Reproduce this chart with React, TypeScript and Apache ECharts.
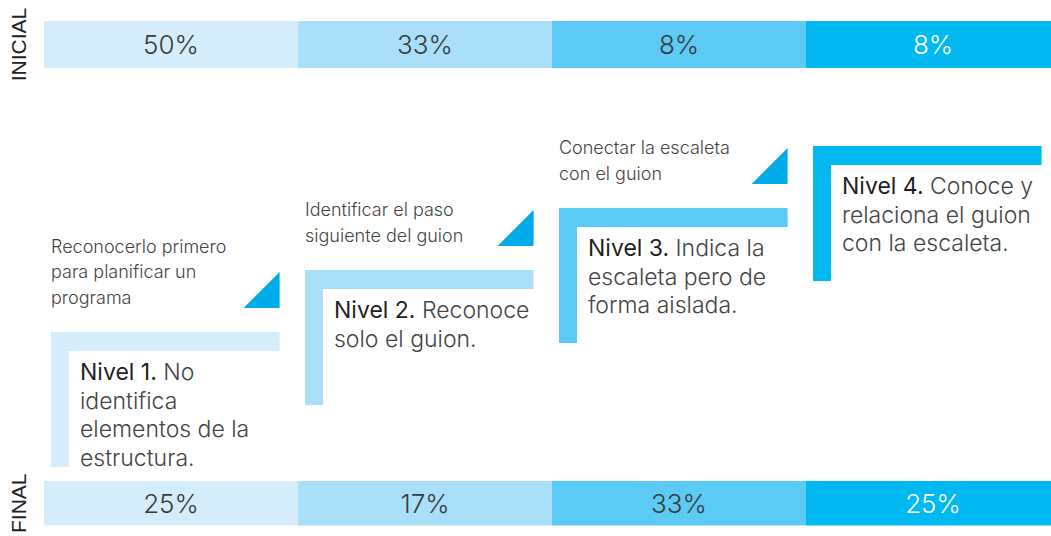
import React, { useEffect, useRef } from "react";
import * as echarts from "echarts";

const levels = ["Nivel 1", "Nivel 2", "Nivel 3", "Nivel 4"];
const stages = ["INICIAL", "FINAL"];
const inicial = [50, 33, 8, 8];
const final = [25, 17, 33, 25];
const levelSteps = [1, 2, 3, 4];
const levelTitles = ["Nivel 1.", "Nivel 2.", "Nivel 3.", "Nivel 4."];
const levelDescriptions = [
  " No\nidentifica\nelementos de la\nestructura.",
  " Reconoce\nsolo el guion.",
  " Indica la\nescaleta pero de\nforma aislada.",
  " Conoce y\nrelaciona el guion\ncon la escaleta.",
];
const stepHints = [
  "Reconocerlo primero\npara planificar un\nprograma",
  "Identificar el paso\nsiguiente del guion",
  "Conectar la escaleta\ncon el guion",
  "",
];

const levelColors = ["#d5edfa", "#aadff9", "#5bcbf5", "#00b9f1"];
const arrowColor = "#00abec";
const FONT = "Inter, sans-serif";

export default function App() {
  const ref = useRef<HTMLDivElement>(null);
  useEffect(() => {
    if (!ref.current) return;
    const chart = echarts.init(ref.current, null, { renderer: "svg" });

    const stageBar = (values: number[], idx: number) => ({
      type: "bar",
      xAxisIndex: idx,
      yAxisIndex: idx,
      barWidth: "100%",
      barCategoryGap: "0%",
      data: values.map((v, i) => ({
        value: 1,
        itemStyle: { color: levelColors[i] },
        label: { color: i === 3 ? "#ffffff" : "#3a3a3a" },
      })),
      label: {
        show: true,
        position: "inside",
        fontFamily: FONT,
        fontWeight: 300,
        fontSize: 26,
        formatter: (p: any) => `${values[p.dataIndex]}%`,
      },
      silent: true,
    });

    const stageAxisY = (name: string, idx: number) => ({
      type: "value",
      gridIndex: idx,
      min: 0,
      max: 1,
      name,
      nameLocation: "middle",
      nameRotate: 90,
      nameGap: 15,
      nameTextStyle: {
        fontFamily: "'Liberation Sans', Arial, sans-serif",
        fontSize: 21,
        color: "#222222",
      },
      axisLine: { show: false },
      axisTick: { show: false },
      axisLabel: { show: false },
      splitLine: { show: false },
    });

    const catX = (idx: number) => ({
      type: "category",
      gridIndex: idx,
      data: levels,
      axisLine: { show: false },
      axisTick: { show: false },
      axisLabel: { show: false },
      splitLine: { show: false },
    });

    const option: any = {
      animation: false,
      grid: [
        { left: 44, right: 0, top: 21, height: 47 },
        { left: 44, right: 0, top: 481, height: 47 },
        { left: 44, right: 0, top: 146, height: 186 },
      ],
      xAxis: [catX(0), catX(1), catX(2)],
      yAxis: [
        stageAxisY(stages[0], 0),
        stageAxisY(stages[1], 1),
        {
          type: "value",
          gridIndex: 2,
          min: 1,
          max: 4,
          show: false,
        },
      ],
      series: [
        stageBar(inicial, 0),
        stageBar(final, 1),
        {
          type: "custom",
          xAxisIndex: 2,
          yAxisIndex: 2,
          clip: false,
          silent: true,
          data: levels.map((_, i) => [i, levelSteps[i]]),
          renderItem: (params: any, api: any) => {
            const i = api.value(0);
            const pt = api.coord([i, api.value(1)]);
            const bandW = api.size([1, 0])[0];
            const left = pt[0] - bandW / 2 + 7;
            const top = pt[1];
            const len = bandW * 0.9;
            const right = left + len;
            const th = 19;
            const vlen = 135;
            const color = levelColors[i];
            const children: any[] = [
              { type: "rect", shape: { x: left, y: top, width: len, height: th }, style: { fill: color } },
              { type: "rect", shape: { x: left, y: top, width: 18, height: vlen }, style: { fill: color } },
              {
                type: "text",
                style: {
                  x: left + 29,
                  y: top + 26,
                  text: `{b|${levelTitles[i]}}${levelDescriptions[i]}`,
                  fontFamily: FONT,
                  fontWeight: 300,
                  fontSize: 23,
                  lineHeight: 28.5,
                  fill: "#444444",
                  textAlign: "left",
                  textVerticalAlign: "top",
                  rich: {
                    b: {
                      fontFamily: FONT,
                      fontWeight: 400,
                      fontSize: 23,
                      lineHeight: 28.5,
                      fill: "#1f1f1f",
                    },
                  },
                },
              },
            ];
            if (stepHints[i]) {
              children.push({
                type: "polygon",
                shape: { points: [[right - 36, top - 24], [right, top - 24], [right, top - 60]] },
                style: { fill: arrowColor },
              });
              children.push({
                type: "text",
                style: {
                  x: left,
                  y: top - 22,
                  text: stepHints[i],
                  fontFamily: FONT,
                  fontWeight: 300,
                  fontSize: 18,
                  lineHeight: 25.5,
                  fill: "#444444",
                  textAlign: "left",
                  textVerticalAlign: "bottom",
                },
              });
            }
            return { type: "group", children };
          },
        },
      ],
    };
    chart.setOption(option);
    return () => chart.dispose();
  }, []);

  return (
    <div
      style={{ position: "absolute", left: 0, top: 0, width: 1051, height: 536, overflow: "hidden", background: "#fff" }}
    >
      <div ref={ref} style={{ width: 1060, height: 536 }} />
    </div>
  );
}
